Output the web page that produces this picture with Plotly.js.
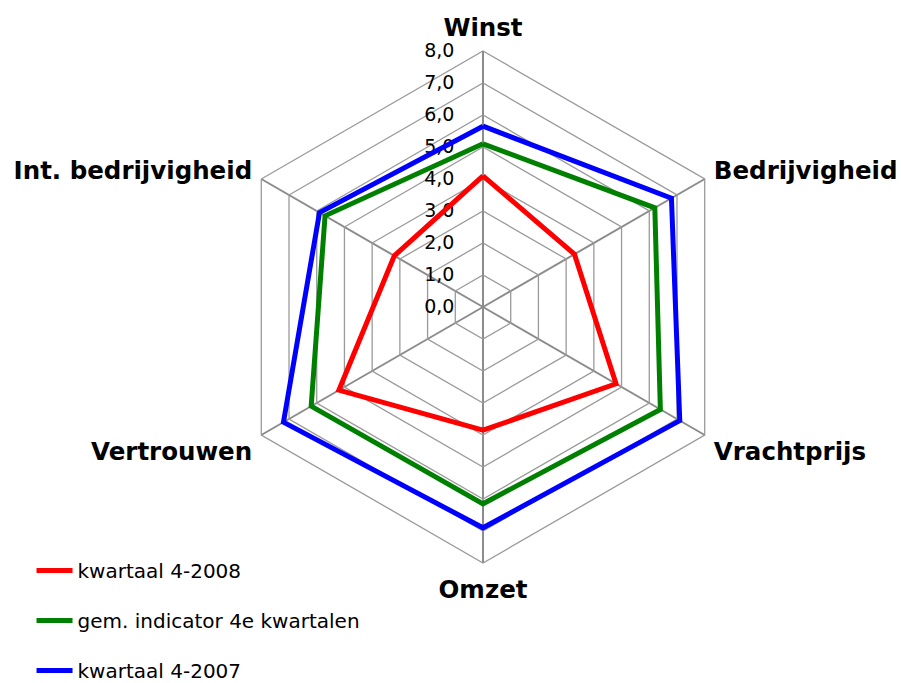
<!DOCTYPE html>
<html>
<head>
<meta charset="utf-8">
<script src="https://cdn.plot.ly/plotly-3.0.1.min.js"></script>
<style>
html,body{margin:0;padding:0;background:#fff;}
#chart{width:901px;height:683px;}
</style>
</head>
<body>
<div id="chart"></div>
<script>
const categories = ["Winst", "Bedrijvigheid", "Vrachtprijs", "Omzet", "Vertrouwen", "Int. bedrijvigheid"];
const seriesNames = ["kwartaal 4-2008", "gem. indicator 4e kwartalen", "kwartaal 4-2007"];
const kwartaal2008 = [4.1, 3.3, 4.8, 3.85, 5.2, 3.2];
const gemIndicator = [5.1, 6.2, 6.4, 6.15, 6.2, 5.7];
const kwartaal2007 = [5.65, 6.8, 7.1, 6.9, 7.2, 5.9];
const radialTicks = [0, 1, 2, 3, 4, 5, 6, 7, 8];
const seriesColors = ["#FF0000", "#008000", "#0000FF"];

const seriesValues = [kwartaal2008, gemIndicator, kwartaal2007];
const closed = arr => arr.concat([arr[0]]);

const traces = seriesValues.map((vals, i) => ({
  type: "scatterpolar",
  mode: "lines",
  name: seriesNames[i],
  legendgroup: "g" + i,
  r: closed(vals),
  theta: closed(categories),
  line: {color: seriesColors[i], width: 5},
  hoverinfo: "skip"
}));

const W = 901, H = 683;
const cx = 483, cy = 307, R = 256;

const layout = {
  width: W, height: H,
  margin: {l: 0, r: 0, t: 0, b: 0, autoexpand: false},
  paper_bgcolor: "#ffffff",
  separators: ",.",
  font: {family: "DejaVu Sans, Verdana, sans-serif", color: "#000000", size: 20},
  showlegend: true,
  legend: {
    x: 0.035, y: (H - 551) / H, xanchor: "left", yanchor: "top",
    font: {size: 20, family: "DejaVu Sans, Verdana, sans-serif"},
    tracegroupgap: 21,
    itemwidth: 36,
    bgcolor: "rgba(0,0,0,0)"
  },
  polar: {
    domain: {x: [(cx - R) / W, (cx + R) / W], y: [(H - cy - R) / H, (H - cy + R) / H]},
    gridshape: "linear",
    bgcolor: "#ffffff",
    radialaxis: {
      range: [0, 8],
      tickvals: radialTicks,
      tickformat: ".1f",
      angle: 90,
      tickangle: 90,
      side: "counterclockwise",
      layer: "below traces",
      showline: true,
      linecolor: "#8c8c8c",
      linewidth: 2,
      gridcolor: "#9a9a9a",
      gridwidth: 1.3,
      ticks: "outside",
      ticklen: 21,
      tickcolor: "rgba(0,0,0,0)",
      tickfont: {size: 19, color: "#000000"}
    },
    angularaxis: {
      direction: "clockwise",
      rotation: 90,
      layer: "below traces",
      showline: true,
      linecolor: "#9a9a9a",
      linewidth: 1.3,
      gridcolor: "#8c8c8c",
      gridwidth: 2,
      ticks: "outside",
      ticklen: 5,
      tickcolor: "rgba(0,0,0,0)",
      tickfont: {size: 24.5, family: "DejaVu Sans, Verdana, sans-serif", weight: "bold", color: "#000000"}
    }
  }
};

Plotly.newPlot("chart", traces, layout, {displayModeBar: false, staticPlot: true});
</script>
</body>
</html>
